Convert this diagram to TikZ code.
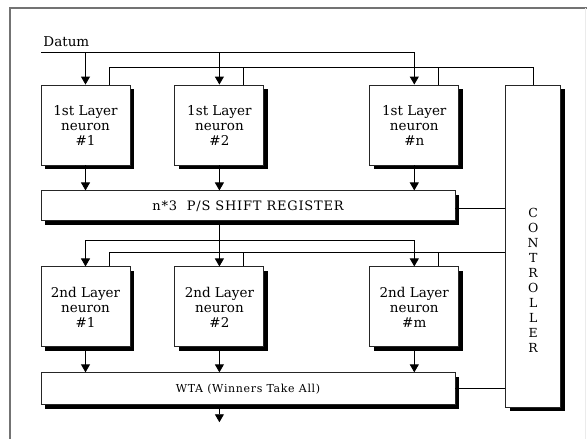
\documentclass[tikz,border=0pt]{standalone}
\usepackage{fontspec}
\setmainfont{DejaVu Serif}
\newfontfamily\widefont[LetterSpace=6]{DejaVu Serif}
\usetikzlibrary{arrows.meta, positioning, calc, shadows}

\begin{document}
\begin{tikzpicture}[
    x=1pt, y=-1pt,
    line width=0.9pt,
    boxshadow/.style={general shadow={fill=black, shadow xshift=4pt, shadow yshift=-4pt}},
    neuron/.style={rectangle, draw=black!85, fill=white, boxshadow, minimum width=89pt, minimum height=80pt, inner sep=0pt, align=center, font=\fontsize{13.5}{15}\selectfont},
    bar/.style={rectangle, draw=black!85, fill=white, boxshadow, minimum width=414pt, minimum height=30pt, inner sep=0pt, align=center},
    arr/.style={-{Triangle[width=9pt,length=8pt]}}
]
    \useasboundingbox (0,0) rectangle (587,439);
    % frame
    \draw[black!55, line width=1.4pt] (10,439) -- (10,8) -- (587,8);
    \draw[black!8] (585,8) -- (585,439);

    % 1st layer
    \node[neuron] (n1) at (85.5,125) {1st Layer\\neuron\\\#1};
    \node[neuron, right=44pt of n1] (n2) {1st Layer\\neuron\\\#2};
    \node[neuron, right=105pt of n2] (nn) {1st Layer\\neuron\\\#n};
    \node[bar, below=25pt of n1.south west, anchor=north west] (sr) {\widefont\fontsize{13}{15}\selectfont n*3~~P/S SHIFT REGISTER};

    % 2nd layer
    \node[neuron, below=101pt of n1] (m1) {2nd Layer\\neuron\\\#1};
    \node[neuron, below=101pt of n2] (m2) {2nd Layer\\neuron\\\#2};
    \node[neuron, below=101pt of nn] (mm) {2nd Layer\\neuron\\\#m};
    \node[bar, below=25pt of m1.south west, anchor=north west, minimum height=32pt] (wta) {\widefont\fontsize{11}{13}\selectfont WTA (Winners Take All)};

    % controller
    \node[rectangle, draw=black!85, fill=white, boxshadow, minimum width=55pt, minimum height=322pt, right=46pt of nn.north east, anchor=north west] (ctrl) {};
    \node[align=center, inner sep=0pt, font=\fontsize{12.5}{15}\selectfont] (ctrltxt) at ($(ctrl.center)+(0,34)$) {C\\O\\N\\T\\R\\O\\L\\L\\E\\R};

    % datum input
    \coordinate (dat) at (41,52);
    \node[anchor=base west, inner sep=0pt, font=\fontsize{13.5}{15}\selectfont] (datum) at (43,46) {Datum};
    \draw[arr] (dat) -| (nn.north);
    \draw[arr] (dat -| n1.north) -- (n1.north);
    \draw[arr] (dat -| n2.north) -- (n2.north);

    % control lines
    \draw ($(n1.north)+(24,0)$) -- ++(0,-17) -| (ctrl.north);
    \draw ($(n2.north)+(24,0)$) -- ++(0,-17);
    \draw ($(nn.north)+(24,0)$) -- ++(0,-17);
    \draw ($(m1.north)+(24,0)$) -- ++(0,-14) coordinate (c2) -- (c2 -| ctrl.west);
    \draw ($(m2.north)+(24,0)$) -- ++(0,-14);
    \draw ($(mm.north)+(24,0)$) -- ++(0,-14);
    \coordinate (srr) at ($(sr.east)+(0,3)$);
    \draw (srr) -- (srr -| ctrl.west);
    \draw (wta.east) -- (wta.east -| ctrl.west);

    % data flow
    \foreach \n in {n1,n2,nn} {
        \draw[arr] (\n.south) -- (\n.south |- sr.north);
    }
    \coordinate (d2) at ($(sr.south -| m2.north)+(0,19)$);
    \draw[arr] (sr.south -| m2.north) -- (m2.north);
    \draw[arr] (d2) -| (m1.north);
    \draw[arr] (d2) -| (mm.north);
    \foreach \m in {m1,m2,mm} {
        \draw[arr] (\m.south) -- (\m.south |- wta.north);
    }
    \coordinate (out) at ($(wta.south -| m2.south)+(0,17)$);
    \draw[arr] (wta.south -| m2.south) -- (out);
\end{tikzpicture}
\end{document}
